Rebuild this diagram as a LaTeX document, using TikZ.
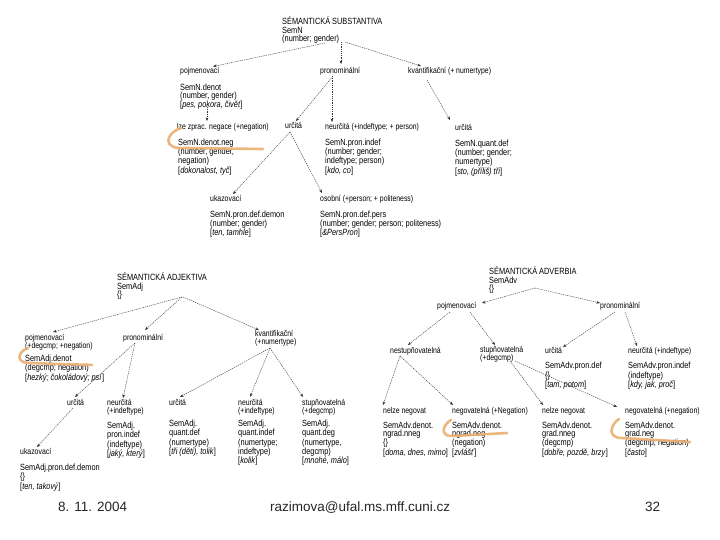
\documentclass[tikz,border=0pt]{standalone}
\usepackage{fontspec}
\setmainfont{Liberation Sans}[FakeStretch=0.82]
\newfontfamily\patafont{Liberation Sans}
\usepackage{xcolor}
\usetikzlibrary{arrows.meta}
\definecolor{zvyraz}{RGB}{234,176,112}
\newcommand{\priklad}[1]{[\textit{#1}]}

\begin{document}
\begin{tikzpicture}[
      x=1pt, y=-1pt,
      lbl/.style={anchor=north west, inner sep=0pt, align=left, font=\fontsize{8.4}{8}\selectfont},
      blk/.style={lbl, font=\fontsize{9}{8}\selectfont},
      root/.style={lbl, font=\fontsize{9}{8.6}\selectfont},
      arr/.style={-{Stealth[length=3.6pt, width=2.8pt]}, black!80, line width=0.4pt, dash pattern=on 1.3pt off 0.9pt},
      hl/.style={zvyraz, line width=2.6pt, line cap=round, opacity=0.9},
      pata/.style={anchor=base west, inner sep=0pt, font=\patafont\fontsize{13.5}{15}\selectfont, black!85}
    ]
    \fill[white] (0,0) rectangle (720,540);
    \useasboundingbox (0,0) rectangle (720,540);

    % Substantiva
    \node[root] (sroot) at (282,16.5) {SÉMANTICKÁ SUBSTANTIVA\\SemN\\(number; gender)};
    \node[lbl] (spojm) at (180,67.5) {pojmenovací};
    \node[lbl] (spron) at (320,67.5) {pronominální};
    \node[lbl] (skvant) at (408,67.5) {kvantifikační (+ numertype)};
    \node[blk] (sdenot) at (180,83.5) {SemN.denot\\(number, gender)\\\priklad{pes, pokora, čivět}};
    \node[lbl] (snegl) at (177,123.5) {lze zprac. negace (+negation)};
    \node[lbl] (surc) at (285,122.5) {určitá};
    \node[lbl] (sneurc) at (325,123.5) {neurčitá (+indeftype; + person)};
    \node[lbl] (surcq) at (455,124.5) {určitá};
    \node[blk] (sneg) at (178,138.5) {SemN.denot.neg\\(number, gender,\\negation)\\\priklad{dokonalost, tyč}};
    \node[blk] (sindef) at (325,138.5) {SemN.pron.indef\\(number; gender;\\indeftype; person)\\\priklad{kdo, co}};
    \node[blk] (squant) at (455,139.5) {SemN.quant.def\\(number; gender;\\numertype)\\\priklad{sto, (příliš) tři}};
    \node[lbl] (sukaz) at (210,195.5) {ukazovací};
    \node[lbl] (sosob) at (320,195.5) {osobní (+person; + politeness)};
    \node[blk] (sdemon) at (210,210.5) {SemN.pron.def.demon\\(number; gender)\\\priklad{ten, tamhle}};
    \node[blk] (spers) at (320,210.5) {SemN.pron.def.pers\\(number; gender; person; politeness)\\\priklad{\&PersPron}};

    \draw[arr] ([shift={(43,26.5)}]sroot.north west) -- ([shift={(33,-1)}]spojm.north west);
    \draw[arr] ([shift={(59,25.5)}]sroot.north west) -- ([shift={(21,-3.5)}]spron.north west);
    \draw[arr] ([shift={(63,25.5)}]sroot.north west) -- ([shift={(13,-1.5)}]skvant.north west);
    \draw[arr] ([shift={(27,23.5)}]sdenot.north west) -- ([shift={(30,-2.5)}]snegl.north west);
    \draw[arr] ([shift={(13,8.5)}]spron.north west) -- ([shift={(11,-1.5)}]surc.north west);
    \draw[arr] ([shift={(12,8.5)}]spron.north west) -- ([shift={(7,-1.5)}]sneurc.north west);
    \draw[arr] ([shift={(19,12.5)}]skvant.north west) -- ([shift={(-5,-4.5)}]surcq.north west);
    \draw[arr] ([shift={(5,9.5)}]surc.north west) -- ([shift={(23,-1.5)}]sukaz.north west);
    \draw[arr] ([shift={(5,9.5)}]surc.north west) -- ([shift={(2,-2.5)}]sosob.north west);

    % Adjektiva
    \node[root] (aroot) at (117,272.5) {SÉMANTICKÁ ADJEKTIVA\\SemAdj\\\{\}};
    \node[lbl] (apojm) at (25,334.5) {pojmenovací\\(+degcmp; +negation)};
    \node[blk] (adenot) at (25,354.5) {SemAdj.denot\\(degcmp; negation)\\\priklad{hezký; čokoládový; psí}};
    \node[lbl] (apron) at (123,334.5) {pronominální};
    \node[lbl] (akvant) at (255,330.5) {kvantifikační\\(+numertype)};
    \node[lbl] (aurc) at (67,399.5) {určitá};
    \node[lbl] (aneurc) at (107,399.5) {neurčitá\\(+indeftype)};
    \node[blk] (aindef) at (107,421.5) {SemAdj.\\pron.indef\\(indeftype)\\\priklad{jaký, který}};
    \node[lbl] (aurcq) at (169,399.5) {určitá};
    \node[blk] (aquant) at (169,419.5) {SemAdj.\\quant.def\\(numertype)\\\priklad{tři (děti), tolik}};
    \node[lbl] (aneurcq) at (238,399.5) {neurčitá\\(+indeftype)};
    \node[blk] (aindefq) at (238,419.5) {SemAdj.\\quant.indef\\(numertype;\\indeftype)\\\priklad{kolik}};
    \node[lbl] (astup) at (302,399.5) {stupňovatelná\\(+degcmp)};
    \node[blk] (adeg) at (302,419.5) {SemAdj.\\quant.deg\\(numertype,\\degcmp)\\\priklad{mnohé, málo}};
    \node[lbl] (aukaz) at (20,448.5) {ukazovací};
    \node[blk] (ademon) at (20,463.5) {SemAdj.pron.def.demon\\\{\}\\\priklad{ten, takový}};

    \draw[arr] ([shift={(65,24.5)}]aroot.north west) -- ([shift={(28,-2.5)}]apojm.north west);
    \draw[arr] ([shift={(65,24.5)}]aroot.north west) -- ([shift={(22,-4.5)}]apron.north west);
    \draw[arr] ([shift={(66,24.5)}]aroot.north west) -- ([shift={(4,-0.5)}]akvant.north west);
    \draw[arr] ([shift={(12,8.5)}]apron.north west) -- ([shift={(8,-2.5)}]aurc.north west);
    \draw[arr] ([shift={(12,8.5)}]apron.north west) -- ([shift={(16,-1.5)}]aneurc.north west);
    \draw[arr] ([shift={(15,17.5)}]akvant.north west) -- ([shift={(11,-2.5)}]aurcq.north west);
    \draw[arr] ([shift={(15,17.5)}]akvant.north west) -- ([shift={(12,-2.5)}]aneurcq.north west);
    \draw[arr] ([shift={(15,17.5)}]akvant.north west) -- ([shift={(1,-2.5)}]astup.north west);
    \draw[arr] ([shift={(6,8.5)}]aurc.north west) -- ([shift={(17,-1.5)}]aukaz.north west);

    % Adverbia
    \node[root] (vroot) at (489,266.5) {SÉMANTICKÁ ADVERBIA\\SemAdv\\\{\}};
    \node[lbl] (vpojm) at (437,302.5) {pojmenovací};
    \node[lbl] (vpron) at (600,302.5) {pronominální};
    \node[lbl] (vnest) at (390,347.5) {nestupňovatelná};
    \node[lbl] (vstup) at (480,346.5) {stupňovatelná\\(+degcmp)};
    \node[lbl] (vurc) at (545,347.5) {určitá};
    \node[blk] (vdef) at (545,362) {SemAdv.pron.def\\\{\}\\\priklad{tam, potom}};
    \node[lbl] (vneurc) at (628,347.5) {neurčitá (+indeftype)};
    \node[blk] (vindef) at (628,362) {SemAdv.pron.indef\\(indeftype)\\\priklad{kdy, jak, proč}};
    \node[lbl] (vnel1) at (383,407.5) {nelze negovat};
    \node[lbl] (vneg1) at (452,407.5) {negovatelná (+Negation)};
    \node[lbl] (vnel2) at (542,407.5) {nelze negovat};
    \node[lbl] (vneg2) at (625,407.5) {negovatelná (+negation)};
    \node[blk] (vb1) at (383,421.5) {SemAdv.denot.\\ngrad.nneg\\\{\}\\\priklad{doma, dnes, mimo}};
    \node[blk] (vb2) at (452,421.5) {SemAdv.denot.\\ngrad.neg\\(negation)\\\priklad{zvlášť}};
    \node[blk] (vb3) at (542,421.5) {SemAdv.denot.\\grad.nneg\\(degcmp)\\\priklad{dobře, pozdě, brzy}};
    \node[blk] (vb4) at (625,421.5) {SemAdv.denot.\\grad.neg\\(degcmp; negation)\\\priklad{často}};

    \draw[arr] ([shift={(46,21.5)}]vroot.north west) -- ([shift={(45,0.5)}]vpojm.north west);
    \draw[arr] ([shift={(46,21.5)}]vroot.north west) -- ([shift={(0,0.5)}]vpron.north west);
    \draw[arr] ([shift={(13,9.5)}]vpojm.north west) -- ([shift={(18,-2.5)}]vnest.north west);
    \draw[arr] ([shift={(33,9.5)}]vpojm.north west) -- ([shift={(15,-1.5)}]vstup.north west);
    \draw[arr] ([shift={(15,9.5)}]vpron.north west) -- ([shift={(18,-0.5)}]vurc.north west);
    \draw[arr] ([shift={(25,9.5)}]vpron.north west) -- ([shift={(9,-1.5)}]vneurc.north west);
    \draw[arr] ([shift={(10,8.5)}]vnest.north west) -- ([shift={(0,-2.5)}]vnel1.north west);
    \draw[arr] ([shift={(10,8.5)}]vnest.north west) -- ([shift={(1,-2.5)}]vneg1.north west);
    \draw[arr] ([shift={(30,14.5)}]vstup.north west) -- ([shift={(1,-2.5)}]vnel2.north west);
    \draw[arr] ([shift={(35,14.5)}]vstup.north west) -- ([shift={(-8,-0.5)}]vneg2.north west);

    % Zvyrazneni
    \draw[hl] (181,128) .. controls (164,134) and (163,150) .. (185,148) -- (263,149);
    \draw[hl] (28,348) .. controls (17,352) and (16,363) .. (29,363) -- (92,365);
    \draw[hl] (451,420) .. controls (442,425) and (440,437) .. (453,436) -- (507,433);
    \draw[hl] (619,419) .. controls (610,425) and (607,438) .. (622,438) -- (690,442);

    % Pata
    \node[pata] (datum) at (58,511) {8. 11. 2004};
    \node[pata] (mail) at (270,511) {razimova@ufal.ms.mff.cuni.cz};
    \node[pata] (strana) at (645,511) {32};
  \end{tikzpicture}
\end{document}
